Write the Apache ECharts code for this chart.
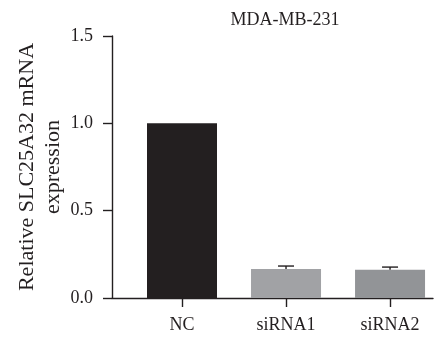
<!DOCTYPE html>
<html>
<head>
<meta charset="utf-8">
<script src="https://cdn.jsdelivr.net/npm/echarts@6/dist/echarts.min.js"></script>
<style>
html,body{margin:0;padding:0;background:#fff;}
#chart{width:447px;height:342px;}
</style>
</head>
<body>
<div id="chart"></div>
<script>
var categories = ['NC', 'siRNA1', 'siRNA2'];
var values = [1.0, 0.166, 0.162];
var errors = [0, 0.017, 0.015];
var barColors = ['#231f20', '#a1a2a5', '#929497'];
var yTicks = [0, 0.5, 1.0, 1.5];
var titleText = 'MDA-MB-231';
var yName = 'Relative SLC25A32 mRNA\nexpression';

var FONT = '"Liberation Serif", "Times New Roman", serif';
var AX = '#231f20';
var positions = categories.map(function (c, i) { return i; });
var errData = [];
categories.forEach(function (c, i) {
  if (errors[i] > 0) errData.push([positions[i], values[i], errors[i]]);
});

var chart = echarts.init(document.getElementById('chart'), null, {renderer: 'canvas'});
chart.setOption({
  animation: false,
  backgroundColor: '#ffffff',
  title: {
    text: titleText,
    left: 280,
    textAlign: 'center',
    top: 6,
    textStyle: {fontFamily: FONT, fontSize: 18, fontWeight: 'normal', color: AX}
  },
  grid: {left: 112, right: 14, top: 36, bottom: 44, containLabel: false},
  xAxis: {
    type: 'value',
    min: -0.673,
    max: 2.413,
    splitLine: {show: false},
    axisLine: {show: true, onZero: false, lineStyle: {color: AX, width: 1.4}},
    axisTick: {show: true, customValues: positions, length: 9, lineStyle: {color: AX, width: 1.4}},
    axisLabel: {
      show: true, customValues: positions, margin: 18,
      fontFamily: FONT, fontSize: 18, color: AX,
      formatter: function (v) { return categories[Math.round(v)]; }
    }
  },
  yAxis: {
    type: 'value',
    min: 0,
    max: 1.5,
    interval: 0.5,
    splitLine: {show: false},
    axisLine: {show: true, onZero: false, lineStyle: {color: AX, width: 1.4}},
    axisTick: {show: true, length: 9, lineStyle: {color: AX, width: 1.4}},
    axisLabel: {
      margin: 19, fontFamily: FONT, fontSize: 18, color: AX,
      formatter: function (v) { return v.toFixed(1); }
    },
    name: yName,
    nameLocation: 'middle',
    nameGap: 46,
    nameRotate: 90,
    nameMoveOverlap: false,
    nameTextStyle: {fontFamily: FONT, fontSize: 22, color: AX, lineHeight: 26, align: 'center'}
  },
  series: [
    {
      type: 'bar',
      barWidth: 70,
      data: categories.map(function (c, i) {
        return {value: [positions[i], values[i]], itemStyle: {color: barColors[i]}};
      })
    },
    {
      type: 'custom',
      data: errData,
      renderItem: function (params, api) {
        var x = api.value(0), v = api.value(1), e = api.value(2);
        var base = api.coord([x, v]);
        var top = api.coord([x, v + e]);
        var half = 8;
        var style = {stroke: AX, lineWidth: 1.4};
        return {
          type: 'group',
          children: [
            {type: 'line', shape: {x1: base[0], y1: base[1], x2: top[0], y2: top[1]}, style: style},
            {type: 'line', shape: {x1: top[0] - half, y1: top[1], x2: top[0] + half, y2: top[1]}, style: style}
          ]
        };
      },
      z: 5
    }
  ]
});
</script>
</body>
</html>
